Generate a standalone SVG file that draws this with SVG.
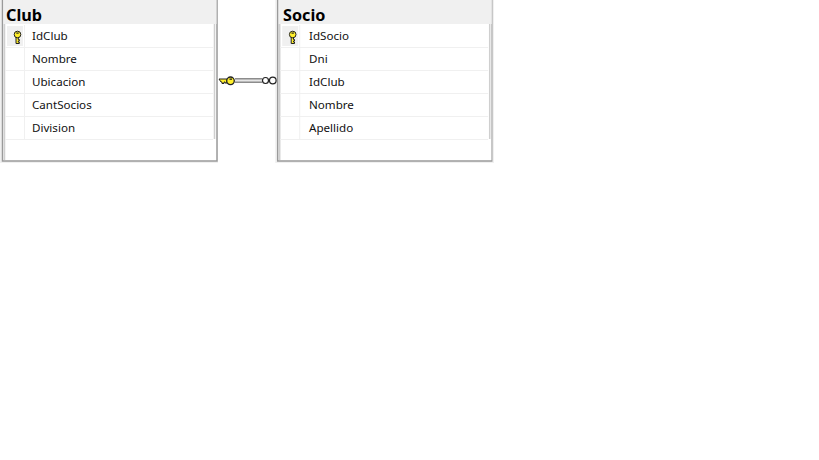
<svg xmlns="http://www.w3.org/2000/svg" width="819" height="460" viewBox="0 0 819 460">
<style>
.hdr{fill:#f0f0f0}
.frame{fill:#fff;stroke:#9a9a9a;stroke-width:1.5}
.inner{fill:none;stroke:#cfcfcf;stroke-width:1.5}
.row{stroke:#f0f0f0;stroke-width:1;fill:none}
.t{font-family:"Noto Sans","Open Sans","Liberation Sans",sans-serif;font-size:11.600px;fill:#111}
.h{font-family:"Noto Sans","Open Sans","Liberation Sans",sans-serif;font-size:16.200px;font-weight:700;fill:#000}
.key{fill:#ffef2a;stroke:#222;stroke-width:1}
</style>
<defs>
<g id="k">
<path d="M-1.500 1V7.500H1.800V6H.8V5H1.800V3.500H.8V1Z" class="key"/>
<circle cx="0" cy="-1.500" r="3.300" class="key"/>
<rect x="-1.200" y="-3.500" width="2.400" height="1.200" fill="#222"/>
</g>
<g id="tbl">
<rect x="0" y="0" width="218" height="163" class="hdr"/>
<path d="M2.500 0V161H217V0" class="frame"/>
<rect x="3.500" y="0" width="213" height="24" class="hdr"/>
<path d="M4.500 24V160M214.500 24V139" class="inner"/>
<path class="row" d="M5 47.500H213M5 70.500H213M5 93.500H213M5 116.500H213M5 139.500H213M24.500 25V139"/>
<rect x="7" y="26" width="16" height="20" fill="#f0f0f0"/>
<use href="#k" x="17.500" y="36"/>
</g>
</defs>
<rect width="819" height="460" fill="#fff"/>
<g id="node-club">
<use href="#tbl"/>
<text class="h" x="6" y="21">Club</text>
<text class="t" x="32" y="40">IdClub</text>
<text class="t" x="32" y="63">Nombre</text>
<text class="t" x="32" y="86">Ubicacion</text>
<text class="t" x="32" y="109">CantSocios</text>
<text class="t" x="32" y="132">Division</text>
</g>
<g id="node-socio">
<use href="#tbl" x="275.200"/>
<rect x="492.500" y="0" width="1.500" height="163" fill="#f0f0f0"/>
<text class="h" x="283" y="21">Socio</text>
<text class="t" x="309" y="40">IdSocio</text>
<text class="t" x="309" y="63">Dni</text>
<text class="t" x="309" y="86">IdClub</text>
<text class="t" x="309" y="109">Nombre</text>
<text class="t" x="309" y="132">Apellido</text>
</g>
<g id="connectors">
<rect x="235" y="78" width="27" height="5" fill="#8c8c8c"/>
<rect x="235" y="79.500" width="27" height="2" fill="#e6e6e6"/>
<path d="M219 79H227V83H225V82H224V83.500H222V82H221Z" fill="#ffef2a" stroke="#222" stroke-width="1"/>
<circle cx="230.500" cy="80.800" r="3.800" fill="#ffef2a" stroke="#222" stroke-width="1.300"/>
<rect x="229.500" y="78.500" width="2.500" height="1.300" fill="#222"/>
<circle cx="265.500" cy="80.500" r="3" fill="#fff" stroke="#222" stroke-width="1.200"/>
<circle cx="272.800" cy="80.500" r="3.300" fill="#fff" stroke="#222" stroke-width="1.200"/>
</g>
</svg>
